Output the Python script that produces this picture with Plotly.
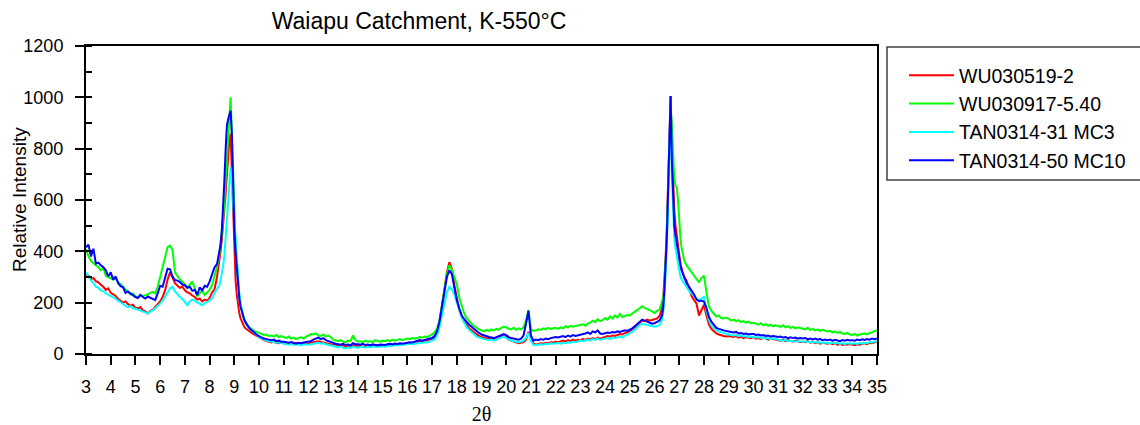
import numpy as np
import plotly.graph_objects as go

# 2-theta sampling: 0.1 deg steps, 0.05 deg steps across the two sharp reflections
two_theta = np.round(np.concatenate([
    np.linspace(3.0, 8.4, 55),
    np.linspace(8.45, 9.5, 22),
    np.linspace(9.6, 26.3, 168),
    np.linspace(26.35, 27.2, 18),
    np.linspace(27.3, 35.0, 78),
]), 2)

sample_names = ["WU030519-2", "WU030917-5.40", "TAN0314-31 MC3", "TAN0314-50 MC10"]
sample_colors = ["#ff0000", "#00ff00", "#00ffff", "#0000ff"]

wu030519_2 = [
    312, 305, 292, 296, 284, 279, 270, 262, 250, 256,
    238, 232, 226, 214, 208, 200, 205, 194, 188, 192,
    180, 178, 183, 170, 166, 158, 168, 172, 183, 192,
    205, 222, 248, 290, 318, 298, 276, 266, 258, 262,
    248, 240, 236, 228, 222, 212, 216, 205, 212, 208,
    218, 240, 252, 300, 365,
    405, 450, 500, 560, 625, 700, 770, 830, 858, 700, 520,
    380, 290, 230, 190, 160, 140, 126, 116, 106, 100, 96,
    90, 82, 76, 70,
    64, 58, 54, 50, 47, 45, 48, 43, 42, 45,
    41, 44, 40, 42, 39, 43, 41, 38, 42, 40,
    41, 44, 46, 48, 50, 47, 45, 42, 40, 38,
    35, 37, 33, 30, 34, 28, 31, 29, 33, 30,
    30, 32, 28, 31, 29, 33, 30, 32, 34, 31,
    35, 33, 36, 34, 37, 38, 36, 39, 40, 38,
    41, 43, 42, 45, 47, 50, 49, 52, 54, 55,
    56, 64, 84, 128, 188, 252, 318, 358, 332, 268,
    212, 172, 146, 126, 112, 100, 92, 84, 76, 70,
    66, 64, 60, 62, 58, 60, 56, 62, 68, 74,
    66, 56, 52, 48, 45, 42, 44, 46, 56, 86,
    60, 40, 36, 38, 42, 40, 44, 42, 46, 45,
    48, 46, 50, 52, 48, 54, 50, 56, 52, 55,
    54, 58, 55, 60, 57, 62, 58, 64, 60, 63,
    66, 70, 68, 72, 70, 75, 78, 76, 82, 84,
    88, 96, 104, 112, 122, 130, 128, 134, 130, 132,
    134, 138, 148, 178,
    210, 280, 380, 500, 680, 900, 1005, 820, 650,
    560, 500, 460, 420, 380, 350, 330, 315, 300,
    285, 250, 226, 210, 196, 150, 175,
    192, 150, 115, 98, 88, 80, 76, 72, 70, 68,
    70, 68, 66, 70, 64, 67, 62, 66, 64, 62,
    66, 60, 62, 58, 64, 60, 56, 60, 58, 55,
    56, 52, 55, 50, 54, 52, 48, 52, 50, 47,
    48, 46, 50, 44, 47, 42, 45, 40, 44, 42,
    40, 43, 38, 42, 36, 40, 35, 38, 36, 39,
    36, 34, 38, 36, 40, 42, 38, 44, 42, 46,
    48,
]

wu030917_540 = [
    408, 380, 362, 355, 346, 338, 326, 336, 305, 300,
    296, 290, 294, 280, 272, 262, 250, 244, 232, 236,
    224, 222, 230, 226, 228, 232, 238, 242, 236, 262,
    300, 338, 378, 416, 422, 405, 318, 305, 290, 282,
    272, 258, 270, 282, 256, 226, 236, 248, 230, 242,
    250, 268, 300, 340, 390,
    430, 468, 530, 600, 690, 780, 870, 950, 1000, 860, 680,
    540, 430, 350, 280, 230, 195, 168, 150, 134, 122, 114,
    104, 96, 90, 86,
    82, 78, 74, 76, 70, 72, 68, 74, 66, 70,
    66, 62, 68, 60, 64, 58, 62, 66, 60, 68,
    72, 78, 76, 80, 72, 70, 76, 68, 72, 66,
    56, 52, 50, 54, 48, 46, 52, 50, 72, 54,
    48, 50, 46, 52, 48, 50, 46, 54, 50, 48,
    52, 50, 54, 50, 56, 52, 55, 58, 54, 56,
    60, 58, 62, 60, 64, 66, 64, 68, 66, 70,
    76, 84, 98, 130, 190, 250, 310, 346, 330, 300,
    272, 220, 184, 158, 140, 128, 118, 110, 102, 96,
    92, 88, 94, 90, 96, 92, 98, 94, 102, 106,
    104, 98, 96, 102, 94, 100, 96, 104, 130, 172,
    96, 90, 92, 96, 94, 100, 96, 102, 98, 100,
    102, 98, 104, 100, 108, 104, 110, 106, 108, 112,
    112, 116, 110, 118, 122, 130, 124, 136, 128, 132,
    140, 134, 146, 138, 150, 142, 156, 144, 148, 152,
    150, 158, 164, 172, 178, 186, 180, 176, 170, 166,
    160, 168, 172, 200,
    220, 260, 340, 460, 640, 850, 960, 900, 760,
    680, 655, 650, 600, 500, 450, 410, 380, 365,
    345, 330, 320, 305, 292, 280, 296,
    305, 240, 186, 168, 158, 146, 150, 140, 138, 142,
    138, 130, 134, 128, 132, 124, 128, 122, 126, 120,
    122, 118, 114, 120, 112, 116, 110, 114, 108, 112,
    110, 106, 112, 104, 108, 102, 106, 100, 104, 102,
    100, 96, 102, 94, 98, 92, 96, 90, 94, 92,
    88, 90, 84, 88, 82, 86, 80, 78, 82, 76,
    74, 78, 72, 76, 78, 80, 76, 82, 84, 90,
    92,
]

tan0314_31_mc3 = [
    318, 300, 286, 276, 262, 258, 248, 244, 236, 230,
    226, 222, 214, 208, 202, 196, 190, 182, 186, 178,
    176, 172, 170, 166, 162, 158, 166, 170, 178, 186,
    196, 208, 222, 240, 256, 262, 244, 232, 222, 214,
    204, 190, 206, 212, 208, 200, 196, 190, 198, 202,
    210, 216, 238, 254, 268,
    290, 312, 345, 385, 450, 530, 610, 680, 728, 660, 590,
    500, 430, 350, 290, 235, 195, 168, 150, 136, 124, 114,
    100, 90, 82, 74,
    66, 60, 56, 52, 50, 48, 46, 44, 46, 43,
    40, 38, 36, 40, 35, 38, 36, 34, 38, 36,
    36, 38, 40, 42, 44, 40, 42, 38, 36, 34,
    30, 28, 26, 30, 24, 22, 26, 24, 28, 26,
    24, 28, 26, 25, 28, 26, 30, 27, 29, 28,
    30, 28, 32, 30, 34, 33, 35, 34, 36, 38,
    38, 40, 39, 42, 41, 44, 43, 46, 45, 48,
    50, 56, 72, 104, 152, 200, 240, 262, 252, 232,
    200, 170, 142, 122, 104, 94, 86, 78, 68, 64,
    60, 58, 56, 54, 56, 52, 56, 60, 64, 68,
    62, 56, 52, 50, 48, 46, 48, 52, 62, 82,
    50, 36, 34, 36, 38, 36, 40, 38, 42, 40,
    41, 43, 40, 44, 42, 46, 44, 48, 46, 50,
    52, 50, 54, 56, 52, 58, 55, 60, 56, 58,
    60, 62, 58, 64, 62, 66, 68, 64, 72, 76,
    80, 86, 94, 104, 112, 118, 116, 114, 110, 108,
    106, 108, 114, 132,
    160, 220, 300, 420, 600, 820, 990, 700, 540,
    450, 410, 380, 345, 318, 300, 290, 282, 274,
    260, 245, 236, 225, 216, 210, 215,
    222, 170, 132, 112, 100, 92, 88, 84, 80, 78,
    76, 74, 72, 74, 70, 72, 68, 70, 66, 68,
    66, 64, 66, 62, 64, 60, 62, 58, 60, 58,
    56, 54, 52, 55, 50, 52, 50, 48, 51, 48,
    48, 50, 46, 48, 45, 47, 44, 46, 43, 45,
    44, 42, 45, 41, 43, 40, 42, 39, 42, 40,
    40, 42, 39, 43, 41, 44, 42, 46, 45, 48,
    50,
]

tan0314_50_mc10 = [
    416, 426, 380, 410, 352, 356, 346, 338, 326, 302,
    318, 290, 302, 276, 264, 260, 238, 244, 236, 228,
    222, 218, 230, 222, 216, 224, 220, 214, 210, 236,
    266, 262, 294, 332, 330, 302, 288, 286, 280, 270,
    268, 258, 262, 246, 250, 230, 260, 248, 266, 262,
    282, 312, 338, 350, 398,
    430, 490, 570, 680, 800, 890, 915, 935, 948, 860, 640,
    490, 400, 330, 270, 220, 185, 165, 148, 135, 124, 116,
    102, 92, 82, 76,
    70, 64, 60, 58, 55, 54, 56, 50, 52, 48,
    48, 46, 44, 47, 42, 40, 44, 42, 45, 46,
    48, 50, 56, 60, 64, 58, 62, 54, 50, 46,
    42, 40, 38, 36, 40, 35, 37, 34, 42, 38,
    38, 36, 40, 35, 37, 34, 38, 36, 33, 37,
    36, 35, 38, 40, 37, 41, 39, 42, 40, 43,
    44, 46, 45, 48, 50, 54, 52, 56, 58, 60,
    62, 70, 88, 126, 184, 244, 300, 326, 312, 260,
    210, 178, 150, 136, 124, 114, 106, 98, 88, 82,
    76, 72, 68, 66, 64, 62, 66, 70, 76, 78,
    74, 66, 62, 60, 58, 56, 60, 72, 118, 168,
    72, 52, 56, 54, 58, 56, 60, 58, 62, 64,
    66, 64, 68, 70, 66, 72, 68, 74, 70, 72,
    74, 76, 80, 84, 78, 88, 84, 92, 80, 78,
    80, 84, 82, 86, 84, 88, 86, 90, 92, 90,
    94, 100, 108, 116, 126, 134, 130, 126, 122, 118,
    120, 124, 130, 150,
    180, 250, 340, 460, 640, 880, 1005, 760, 580,
    500, 460, 430, 400, 366, 345, 325, 312, 300,
    275, 262, 249, 232, 212, 206, 208,
    204, 180, 145, 126, 112, 102, 98, 94, 92, 90,
    88, 86, 84, 86, 80, 82, 78, 80, 76, 78,
    78, 74, 76, 72, 74, 70, 72, 68, 70, 68,
    66, 68, 64, 66, 62, 65, 62, 64, 60, 62,
    60, 62, 58, 60, 57, 60, 56, 58, 54, 56,
    54, 56, 52, 55, 53, 50, 54, 52, 55, 53,
    54, 52, 56, 54, 57, 55, 58, 56, 60, 58,
    60,
]

y_ticks = [0, 200, 400, 600, 800, 1000, 1200]
x_ticks = list(range(3, 36))

series = [wu030519_2, wu030917_540, tan0314_31_mc3, tan0314_50_mc10]
for s in series:
    if len(s) != len(two_theta):
        raise ValueError(f"series length {len(s)} != {len(two_theta)}")

fig = go.Figure()
for name, color, values in zip(sample_names, sample_colors, series):
    fig.add_trace(go.Scatter(
        x=two_theta, y=values, mode="lines", name=name,
        line=dict(color=color, width=2),
    ))

# plot area in pixels: x 86..877, y 46..354
L, R, T, B = 86, 877, 46, 354
W, H = 1140, 425

def px_x(p):
    return (p - L) / (R - L)

def px_y(p):
    return (B - p) / (B - T)

fig.update_layout(
    width=W, height=H,
    margin=dict(l=L, r=W - R, t=T, b=H - B, pad=0, autoexpand=False),
    paper_bgcolor="white", plot_bgcolor="white",
    font=dict(family="Liberation Sans, Arial, sans-serif", size=18, color="black"),
    title=dict(text="Waiapu Catchment, K-550°C", x=419 / W, xref="container",
               xanchor="center", y=1 - 21 / H, yref="container", yanchor="middle",
               font=dict(size=23)),
    legend=dict(x=px_x(904), y=px_y(56), xanchor="left", yanchor="top",
                bgcolor="rgba(0,0,0,0)", borderwidth=0, font=dict(size=19.5),
                tracegroupgap=0, itemwidth=45),
    xaxis=dict(range=[3, 35], tickvals=x_ticks, ticks="outside", ticklen=9,
               tickwidth=1.5, tickcolor="black", showline=True, linecolor="black",
               linewidth=2, mirror=True, showgrid=False, zeroline=False,
               ticklabelstandoff=6, automargin=False,
               title=dict(text="2θ", standoff=17,
                          font=dict(family="Liberation Serif, Times New Roman, serif", size=20))),
    yaxis=dict(range=[0, 1200], tickvals=y_ticks, ticks="outside", ticklen=9,
               tickwidth=1.5, tickcolor="black", showline=True, linecolor="black",
               linewidth=2, mirror=True, showgrid=False, zeroline=False,
               ticklabelstandoff=8, automargin=False,
               minor=dict(dtick=100, tick0=0, ticks="inside", ticklen=6, tickwidth=1.5,
                          tickcolor="black", showgrid=False)),
    annotations=[dict(text="Relative Intensity", xref="paper", yref="paper",
                      x=px_x(19), y=0.5, xanchor="center", yanchor="middle",
                      textangle=-90, showarrow=False, font=dict(size=19))],
    shapes=[dict(type="rect", xref="paper", yref="paper",
                 x0=px_x(887), x1=px_x(1170), y0=px_y(180), y1=px_y(47),
                 line=dict(color="#404040", width=1.5), fillcolor="rgba(0,0,0,0)",
                 layer="above")],
)

fig.write_html("out.html")
